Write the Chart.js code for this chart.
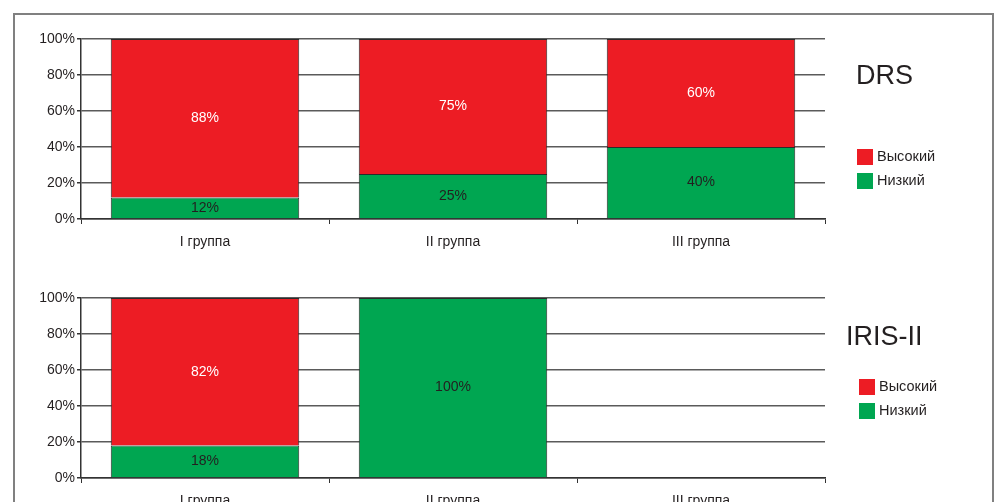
<!DOCTYPE html>
<html>
<head>
<meta charset="utf-8">
<script src="https://cdn.jsdelivr.net/npm/chart.js@4.4.0/dist/chart.umd.min.js"></script>
<style>
  html, body { margin: 0; padding: 0; background: #fff; overflow: hidden; width: 997px; height: 502px; }
  #frame { position: absolute; left: 13px; top: 13px; width: 981px; height: 600px; border: 2px solid #808080; box-sizing: border-box; }
  canvas { position: absolute; left: 0; }
  #drsChart { top: 0; }
  #irisChart { top: 259px; }
</style>
</head>
<body>
<div id="frame"></div>
<canvas id="drsChart" width="997" height="260"></canvas>
<canvas id="irisChart" width="997" height="260"></canvas>
<script>
// Chart data
const groups = ['I группа', 'II группа', 'III группа'];
const seriesNames = ['Низкий', 'Высокий'];
const seriesColors = ['#00a651', '#ed1c24'];

const drsLow = [12, 25, 40];
const drsHigh = [88, 75, 60];

const irisLow = [18, 100, null];
const irisHigh = [82, 0, null];

const yTicks = [0, 20, 40, 60, 80, 100];

const FONT = '"Liberation Sans", Arial, Helvetica, sans-serif';

// Labels inside the bar segments
const segmentLabels = {
    id: 'segmentLabels',
    afterDatasetsDraw(chart) {
        const ctx = chart.ctx;
        ctx.save();
        ctx.font = '14px ' + FONT;
        ctx.textAlign = 'center';
        ctx.textBaseline = 'middle';
        chart.data.datasets.forEach((ds, i) => {
            const meta = chart.getDatasetMeta(i);
            meta.data.forEach((bar, j) => {
                const v = ds.data[j];
                if (!v) return;
                ctx.fillStyle = ds.labelColor;
                ctx.fillText(v + '%', bar.x, (bar.y + bar.base) / 2);
            });
        });
        ctx.restore();
    }
};

// Title and legend on the right side
const sideLegend = {
    id: 'sideLegend',
    afterDraw(chart, args, opts) {
        const ctx = chart.ctx;
        const top = chart.chartArea.top;
        ctx.save();
        ctx.fillStyle = '#231f20';
        ctx.font = '27px ' + FONT;
        ctx.textAlign = 'left';
        ctx.textBaseline = 'middle';
        ctx.fillText(opts.title, opts.titleX, top + opts.titleDy);

        // legend lists the top segment first
        const items = chart.data.datasets.slice().reverse();
        items.forEach((ds, k) => {
            const y = top + opts.boxDy + k * 24;
            ctx.fillStyle = ds.backgroundColor;
            ctx.fillRect(opts.boxX, y, 16, 16);
            ctx.fillStyle = '#231f20';
            ctx.font = '14.5px ' + FONT;
            ctx.fillText(ds.label, opts.boxX + 20, y + 8);
        });
        ctx.restore();
    }
};

function makeChart(id, low, high, legendOpts) {
    const ctx = document.getElementById(id).getContext('2d');
    return new Chart(ctx, {
        type: 'bar',
        data: {
            labels: groups,
            datasets: [
                {
                    label: seriesNames[0],
                    data: low,
                    backgroundColor: seriesColors[0],
                    borderColor: '#2b2b2b',
                    borderWidth: 1,
                    labelColor: '#231f20'
                },
                {
                    label: seriesNames[1],
                    data: high,
                    backgroundColor: seriesColors[1],
                    borderColor: '#2b2b2b',
                    borderWidth: 1,
                    labelColor: '#ffffff'
                }
            ]
        },
        options: {
            responsive: false,
            animation: false,
            categoryPercentage: 0.76,
            barPercentage: 1,
            layout: { padding: { left: 0, top: 39, right: 172, bottom: 0 } },
            plugins: {
                legend: { display: false },
                tooltip: { enabled: false },
                sideLegend: legendOpts
            },
            scales: {
                x: {
                    stacked: true,
                    afterFit(scale) { scale.height = 41; },
                    grid: {
                        display: true,
                        drawOnChartArea: false,
                        offset: true,
                        tickLength: 5,
                        tickColor: '#333',
                        tickWidth: 1
                    },
                    border: { display: true, color: '#333', width: 1.5 },
                    ticks: {
                        color: '#231f20',
                        padding: 10,
                        font: { family: FONT, size: 14 }
                    }
                },
                y: {
                    stacked: true,
                    min: 0,
                    max: 100,
                    afterFit(scale) { scale.width = 81; },
                    afterBuildTicks(scale) {
                        scale.ticks = yTicks.map(v => ({ value: v }));
                    },
                    grid: {
                        color: '#5a5a5a',
                        lineWidth: 1.5,
                        tickLength: 4,
                        tickColor: '#333'
                    },
                    border: { display: true, color: '#333', width: 1.5 },
                    ticks: {
                        color: '#231f20',
                        padding: 2,
                        font: { family: FONT, size: 14 },
                        callback: v => v + '%'
                    }
                }
            }
        },
        plugins: [segmentLabels, sideLegend]
    });
}

document.addEventListener('DOMContentLoaded', function() {
    makeChart('drsChart', drsLow, drsHigh, { title: 'DRS', titleX: 856, titleDy: 38, boxX: 857, boxDy: 110 });
    makeChart('irisChart', irisLow, irisHigh, { title: 'IRIS-II', titleX: 846, titleDy: 40, boxX: 859, boxDy: 81 });
});
</script>
</body>
</html>
